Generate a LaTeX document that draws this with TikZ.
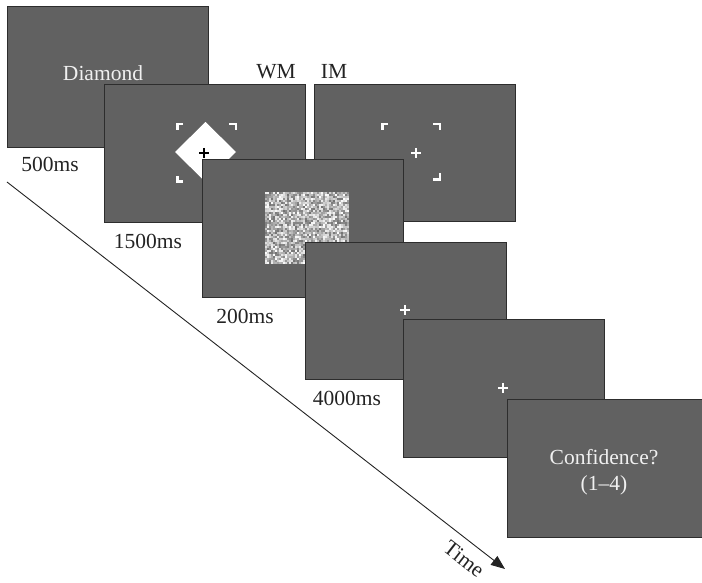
\documentclass[tikz,border=0pt]{standalone}
\usepackage{fontspec}
\setmainfont{Liberation Serif}
\usetikzlibrary{arrows.meta}
\definecolor{panelgray}{RGB}{97,97,97}
\definecolor{edgegray}{RGB}{45,45,45}
\definecolor{txtwhite}{RGB}{240,240,240}
\definecolor{labelblack}{RGB}{35,35,35}
\begin{document}
\begin{tikzpicture}[x=1pt,y=-1pt,
  panel/.style={draw=edgegray, line width=1pt, fill=panelgray, minimum width=201pt, minimum height=138pt, inner sep=0pt, anchor=north west},
  lbl/.style={font=\fontsize{21.5}{26}\selectfont, text=labelblack, anchor=base, inner sep=0pt},
  wlbl/.style={lbl, text=txtwhite},
  brk/.style={draw=white, line width=2.5pt, line cap=butt, line join=miter},
  crossw/.style={draw=white, line width=2.8pt, line cap=butt},
  crossb/.style={draw=black, line width=2.8pt, line cap=butt}
]
\useasboundingbox (0,0) rectangle (702,583);

% time arrow
\coordinate (tstart) at (7,182);
\coordinate (tend) at (505,569);
\draw[labelblack, line width=0.9pt, -{Triangle[length=14pt,width=11pt]}] (tstart) -- (tend);
\node[lbl, rotate=-37.8, anchor=center] (time) at (464,559) {Time};

% panel 1
\node[panel, minimum height=141pt] (p1) at (7,6) {};
\node[wlbl] (diamondtxt) at (103,81) {Diamond};
\node[lbl] (t500) at (50,172) {500ms};

% panel 2 (WM)
\node[panel] (p2) at (104,84) {};
\fill[white] (205.5,122) -- (236,152) -- (205.5,182) -- (175,152) -- cycle;
\draw[brk] (183,124.25) -- (177.25,124.25) -- (177.25,130);
\draw[brk] (229,124.25) -- (235.75,124.25) -- (235.75,130);
\draw[brk] (177.25,176) -- (177.25,181.75) -- (183,181.75);
\draw[crossb] (199,153) -- (209,153);
\draw[crossb] (204,148) -- (204,158);
\node[lbl] (t1500) at (148,248) {1500ms};
\node[lbl] (wm) at (276,79) {WM};

% panel 3 (IM)
\node[panel, minimum height=137pt] (p3) at (314,84) {};
\draw[brk] (388,124.25) -- (382.25,124.25) -- (382.25,130);
\draw[brk] (433,124.25) -- (439.75,124.25) -- (439.75,130);
\draw[brk] (439.75,173) -- (439.75,179.75) -- (433,179.75);
\draw[crossw] (411,153) -- (421,153);
\draw[crossw] (416,148) -- (416,158);
\node[lbl] (im) at (334,79) {IM};

% panel 4 (mask)
\node[panel] (p4) at (202,159) {};
\pgfmathsetseed{7}
\begin{scope}
\clip (265,192) rectangle (349,263);
\foreach \i in {0,...,41} {
  \foreach \j in {0,...,35} {
    \pgfmathsetmacro\g{int(45+55*rnd)}
    \fill[white!\g!black] (265+2*\i,192+2*\j) rectangle ++(2,2);
  }
}
\end{scope}
\node[lbl] (t200) at (245,323) {200ms};

% panel 5
\node[panel, minimum height=137pt] (p5) at (305,242) {};
\draw[crossw] (400,310) -- (410,310);
\draw[crossw] (405,305) -- (405,315);
\node[lbl] (t4000) at (347,405) {4000ms};

% panel 6
\node[panel] (p6) at (403,319) {};
\draw[crossw] (498,388) -- (508,388);
\draw[crossw] (503,383) -- (503,393);

% panel 7
\node[panel, minimum width=194.5pt] (p7) at (507,399) {};
\node[wlbl] (conf) at (604,464) {Confidence?};
\node[wlbl] (range) at (604,490) {(1–4)};
\end{tikzpicture}
\end{document}
